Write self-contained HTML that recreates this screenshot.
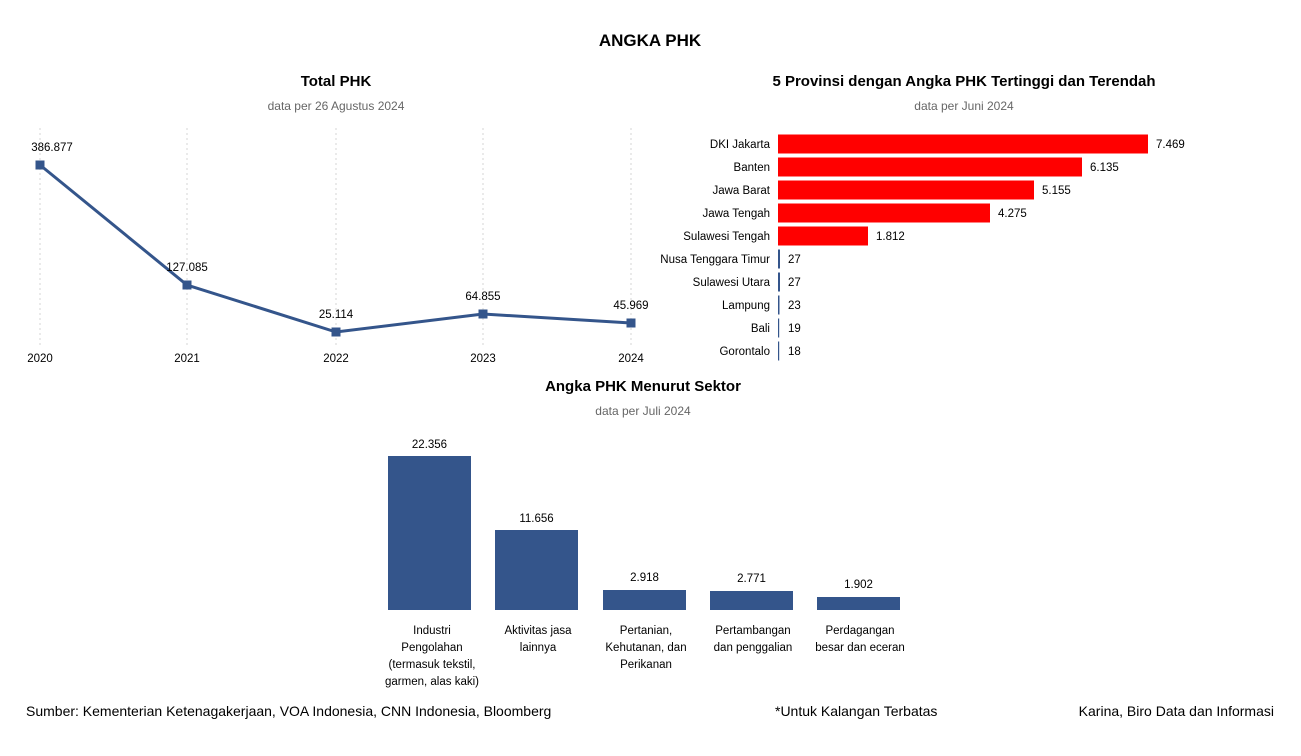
<!DOCTYPE html>
<html><head><meta charset="utf-8"><style>
body{margin:0;width:1301px;height:751px;background:#fff;overflow:hidden}
svg text{font-family:"Liberation Sans",sans-serif;fill:#000}
</style></head><body>
<svg width="1301" height="751" xmlns="http://www.w3.org/2000/svg">
<text x="650" y="46" text-anchor="middle" font-size="17" font-weight="bold">ANGKA PHK</text>
<text x="336" y="86" text-anchor="middle" font-size="15" font-weight="bold">Total PHK</text>
<text x="336" y="110" text-anchor="middle" font-size="12" style="fill:#666">data per 26 Agustus 2024</text>
<g stroke="#d4d4d4" stroke-dasharray="2,3" stroke-width="1">
<line x1="40" y1="128" x2="40" y2="345"/><line x1="187" y1="128" x2="187" y2="345"/><line x1="336" y1="128" x2="336" y2="345"/><line x1="483" y1="128" x2="483" y2="345"/><line x1="631" y1="128" x2="631" y2="345"/>
</g>
<polyline points="40,165 187,285 336,332 483,314 631,323" fill="none" stroke="#34558b" stroke-width="3"/>
<g fill="#34558b"><rect x="35.5" y="160.5" width="9" height="9"/><rect x="182.5" y="280.5" width="9" height="9"/><rect x="331.5" y="327.5" width="9" height="9"/><rect x="478.5" y="309.5" width="9" height="9"/><rect x="626.5" y="318.5" width="9" height="9"/></g>
<g font-size="11.5" text-anchor="middle">
<text x="52" y="151">386.877</text><text x="187" y="271">127.085</text><text x="336" y="318">25.114</text><text x="483" y="300">64.855</text><text x="631" y="309">45.969</text>
<text x="40" y="362">2020</text><text x="187" y="362">2021</text><text x="336" y="362">2022</text><text x="483" y="362">2023</text><text x="631" y="362">2024</text>
</g>
<text x="964" y="86" text-anchor="middle" font-size="15" font-weight="bold">5 Provinsi dengan Angka PHK Tertinggi dan Terendah</text>
<text x="964" y="110" text-anchor="middle" font-size="12" style="fill:#666">data per Juni 2024</text>
<g fill="#ff0000"><rect x="778" y="134.5" width="370" height="19"/><rect x="778" y="157.5" width="304" height="19"/><rect x="778" y="180.5" width="256" height="19"/><rect x="778" y="203.5" width="212" height="19"/><rect x="778" y="226.5" width="90" height="19"/></g>
<g fill="#34558b"><rect x="778" y="249.5" width="2" height="19"/><rect x="778" y="272.5" width="2" height="19"/><rect x="778" y="295.5" width="1.5" height="19"/><rect x="778" y="318.5" width="1.2" height="19"/><rect x="778" y="341.5" width="1.2" height="19"/></g>
<g font-size="11.5" text-anchor="end">
<text x="770" y="148">DKI Jakarta</text><text x="770" y="171">Banten</text><text x="770" y="194">Jawa Barat</text><text x="770" y="217">Jawa Tengah</text><text x="770" y="240">Sulawesi Tengah</text><text x="770" y="263">Nusa Tenggara Timur</text><text x="770" y="286">Sulawesi Utara</text><text x="770" y="309">Lampung</text><text x="770" y="332">Bali</text><text x="770" y="355">Gorontalo</text>
</g>
<g font-size="11.5">
<text x="1156" y="148">7.469</text><text x="1090" y="171">6.135</text><text x="1042" y="194">5.155</text><text x="998" y="217">4.275</text><text x="876" y="240">1.812</text><text x="788" y="263">27</text><text x="788" y="286">27</text><text x="788" y="309">23</text><text x="788" y="332">19</text><text x="788" y="355">18</text>
</g>
<text x="643" y="391" text-anchor="middle" font-size="15" font-weight="bold">Angka PHK Menurut Sektor</text>
<text x="643" y="415" text-anchor="middle" font-size="12" style="fill:#666">data per Juli 2024</text>
<g fill="#34558b"><rect x="388" y="456" width="83" height="154"/><rect x="495" y="530" width="83" height="80"/><rect x="603" y="590" width="83" height="20"/><rect x="710" y="591" width="83" height="19"/><rect x="817" y="597" width="83" height="13"/></g>
<g font-size="11.5" text-anchor="middle">
<text x="429.5" y="448">22.356</text><text x="536.5" y="522">11.656</text><text x="644.5" y="581">2.918</text><text x="751.5" y="582">2.771</text><text x="858.5" y="588">1.902</text>
<text x="432" y="634">Industri</text><text x="432" y="651">Pengolahan</text><text x="432" y="668">(termasuk tekstil,</text><text x="432" y="685">garmen, alas kaki)</text>
<text x="538" y="634">Aktivitas jasa</text><text x="538" y="651">lainnya</text>
<text x="646" y="634">Pertanian,</text><text x="646" y="651">Kehutanan, dan</text><text x="646" y="668">Perikanan</text>
<text x="753" y="634">Pertambangan</text><text x="753" y="651">dan penggalian</text>
<text x="860" y="634">Perdagangan</text><text x="860" y="651">besar dan eceran</text>
</g>
<g font-size="14">
<text x="26" y="716">Sumber: Kementerian Ketenagakerjaan, VOA Indonesia, CNN Indonesia, Bloomberg</text>
<text x="775" y="716">*Untuk Kalangan Terbatas</text>
<text x="1274" y="716" text-anchor="end">Karina, Biro Data dan Informasi</text>
</g>
</svg>
</body></html>
